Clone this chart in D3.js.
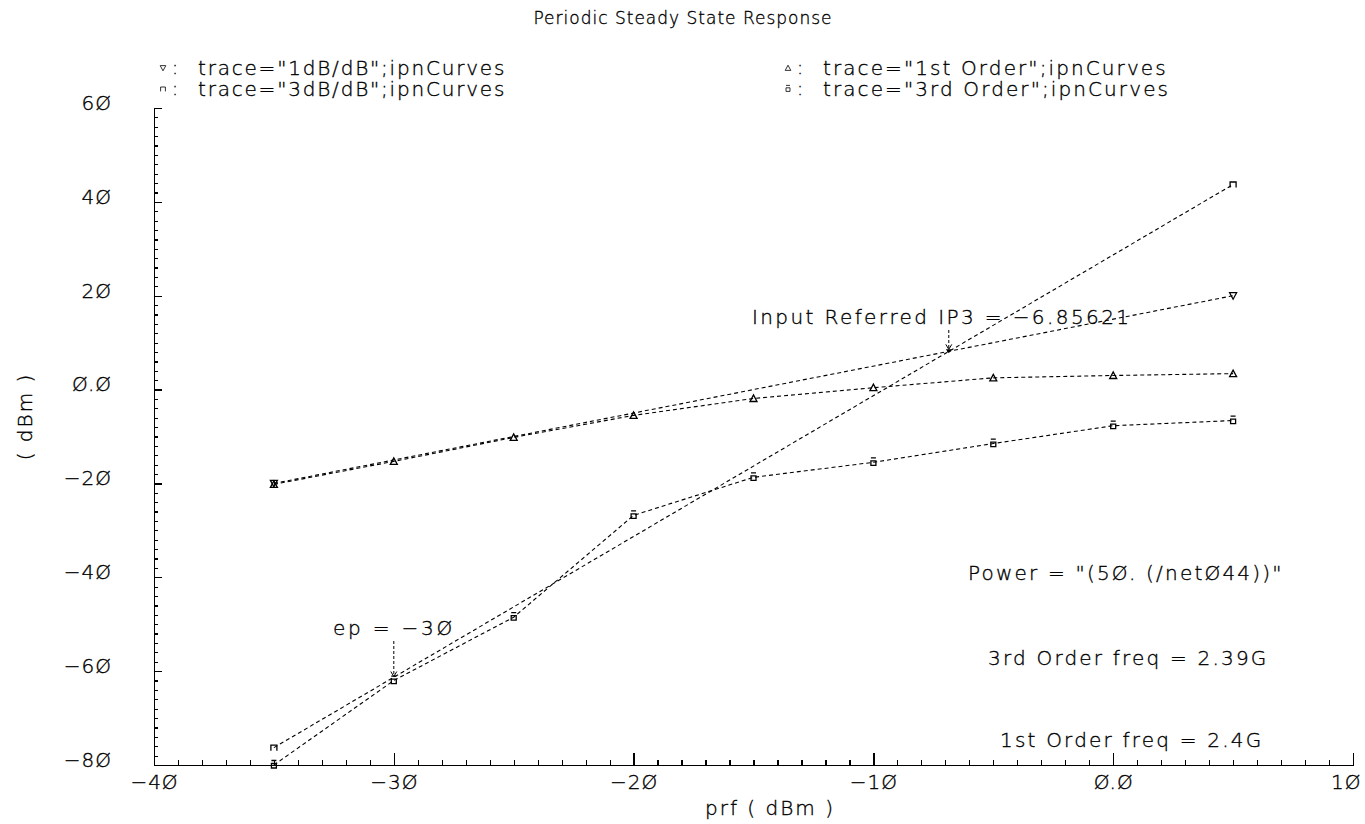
<!DOCTYPE html>
<html>
<head>
<meta charset="utf-8">
<script src="https://cdn.jsdelivr.net/npm/d3@7"></script>
<style>
body { margin: 0; background: #fff; }
text { font-family: "DejaVu Sans", sans-serif; font-weight: 200; fill: #000; stroke: #000; stroke-width: 0.35px; }
</style>
</head>
<body>
<div id="chart"></div>
<script>
// Data
var prf = [-35, -30, -25, -20, -15, -10, -5, 0, 5];
var firstOrder = [-20.2, -15.3, -10.2, -5.5, -1.9, 0.4, 2.5, 3.0, 3.4];
var thirdOrder = [-80.0, -62.0, -48.5, -26.8, -18.7, -15.5, -11.5, -7.7, -6.6];
var slopePrf = [-35, 5];
var oneDb = [-20.0, 20.0];
var threeDb = [-76.3, 43.7];
var ip3Point = [-6.85621, 8.14];
var epPoint = [-30, -62.0];
var xMajor = [-40, -30, -20, -10, 0, 10];
var yMajor = [-80, -60, -40, -20, 0, 20, 40, 60];

var width = 1365, height = 824;
var plotLeft = 154, plotRight = 1353, plotTop = 108, plotBottom = 765;

var svg = d3.select("#chart").append("svg")
    .attr("width", width)
    .attr("height", height);

svg.append("rect").attr("width", width).attr("height", height).attr("fill", "#fff");

var xScale = d3.scaleLinear().domain([-40, 10]).range([plotLeft, plotRight]);
var yScale = d3.scaleLinear().domain([-80, 60]).range([plotBottom, plotTop]);

// odd slashed zero of the plotting tool
function fmt(d) {
  if (d === 0) return "Ø.Ø";
  return String(d).replace(/0/g, "Ø").replace("-", "−");
}

// minor ticks
svg.append("g")
    .attr("transform", `translate(0, ${plotBottom})`)
    .call(d3.axisBottom(xScale).tickValues(d3.range(-40, 11, 1)).tickSizeInner(-5).tickSizeOuter(0).tickFormat(""));
svg.append("g")
    .attr("transform", `translate(${plotLeft}, 0)`)
    .call(d3.axisLeft(yScale).tickValues(d3.range(-80, 61, 2)).tickSizeInner(-4).tickSizeOuter(0).tickFormat(""));

// major ticks + labels
var xAxis = svg.append("g")
    .attr("class", "xAxis")
    .attr("transform", `translate(0, ${plotBottom})`)
    .call(d3.axisBottom(xScale).tickValues(xMajor).tickSizeInner(-12).tickSizeOuter(0).tickPadding(10).tickFormat(fmt));
var yAxis = svg.append("g")
    .attr("class", "yAxis")
    .attr("transform", `translate(${plotLeft}, 0)`)
    .call(d3.axisLeft(yScale).tickValues(yMajor).tickSizeInner(-8).tickSizeOuter(0).tickPadding(42).tickFormat(fmt));

svg.selectAll(".domain, .tick line").attr("stroke", "#000").attr("stroke-width", 1.2).attr("shape-rendering", "crispEdges");
svg.selectAll(".tick text").attr("font-size", 20).attr("font-family", null).attr("fill", null).style("letter-spacing", "1px");
yAxis.selectAll(".tick text").attr("y", -5);
xAxis.selectAll(".tick text").filter(function(d) { return d === 10; }).attr("text-anchor", "end").attr("dx", 8);

// titles
svg.append("text")
    .attr("x", 683).attr("y", 24)
    .attr("text-anchor", "middle")
    .attr("font-size", 17)
    .style("letter-spacing", "1px")
    .text("Periodic Steady State Response");

svg.append("text")
    .attr("x", 770).attr("y", 815)
    .attr("text-anchor", "middle")
    .attr("font-size", 20)
    .style("letter-spacing", "2px")
    .text("prf ( dBm )");

svg.append("text")
    .attr("transform", `translate(32, ${(plotTop + plotBottom) / 2 - 20}) rotate(-90)`)
    .attr("text-anchor", "middle")
    .attr("font-size", 20)
    .style("letter-spacing", "2px")
    .text("( dBm )");

// marker shapes
var shapes = {
  down: "M-3.5,-3L3.5,-3L0,3.5Z",
  up: "M-3.5,3L3.5,3L0,-3.5Z",
  box: "M-3,3V-2.5H3V3",
  bar: "M-2.5,-1.5h5v4.5h-5ZM-2.5,-4.5h5"
};

var series = [
  { name: 'trace="1dB/dB";ipnCurves', xs: slopePrf, ys: oneDb, shape: "down" },
  { name: 'trace="3dB/dB";ipnCurves', xs: slopePrf, ys: threeDb, shape: "box" },
  { name: 'trace="1st Order";ipnCurves', xs: prf, ys: firstOrder, shape: "up" },
  { name: 'trace="3rd Order";ipnCurves', xs: prf, ys: thirdOrder, shape: "bar" }
];

var line = d3.line()
    .x(function(d) { return xScale(d[0]); })
    .y(function(d) { return yScale(d[1]); });

series.forEach(function(s) {
  var pts = s.xs.map(function(x, i) { return [x, s.ys[i]]; });
  svg.append("path")
      .datum(pts)
      .attr("d", line)
      .attr("fill", "none")
      .attr("stroke", "#000")
      .attr("stroke-width", 1.1)
      .attr("stroke-dasharray", "4,3");
  svg.selectAll(null).data(pts).enter()
      .append("path")
      .attr("d", shapes[s.shape])
      .attr("transform", function(d) { return `translate(${xScale(d[0])}, ${yScale(d[1])})`; })
      .attr("fill", "none")
      .attr("stroke", "#000")
      .attr("stroke-width", 1.3);
});

// legend
var legendPos = [[163, 68], [163, 89], [788, 68], [788, 89]];
series.forEach(function(s, i) {
  var g = svg.append("g").attr("transform", `translate(${legendPos[i][0]}, ${legendPos[i][1]})`);
  g.append("path")
      .attr("d", shapes[s.shape])
      .attr("transform", "scale(0.8)")
      .attr("fill", "none")
      .attr("stroke", "#000");
  g.append("text").attr("x", 9).attr("y", 6).attr("font-size", 18).text(":");
  g.append("text")
      .attr("x", 35).attr("y", 7)
      .attr("font-size", 20)
      .style("letter-spacing", i < 2 ? "1.8px" : "2.1px")
      .text(s.name);
});

// annotations
function arrow(x, y0, y1) {
  svg.append("line")
      .attr("x1", x).attr("x2", x).attr("y1", y0).attr("y2", y1)
      .attr("stroke", "#000").attr("stroke-dasharray", "3,2");
  svg.append("path")
      .attr("d", `M${x - 3},${y1 - 5}L${x},${y1}L${x + 3},${y1 - 5}`)
      .attr("fill", "none").attr("stroke", "#000");
}

var ipx = xScale(ip3Point[0]), ipy = yScale(ip3Point[1]);
svg.append("text")
    .attr("x", 752).attr("y", 324)
    .attr("font-size", 20)
    .style("letter-spacing", "2.4px")
    .text("Input Referred IP3 = −6.85621");
arrow(ipx, 330, ipy - 2);
svg.append("path")
    .attr("d", "M-3,-2h6l-3,4Z")
    .attr("transform", `translate(${ipx}, ${ipy})`)
    .attr("fill", "#000");

var epx = xScale(epPoint[0]), epy = yScale(epPoint[1]);
svg.append("text")
    .attr("x", 333).attr("y", 635)
    .attr("font-size", 20)
    .style("letter-spacing", "2.8px")
    .text("ep = −3Ø");
arrow(epx, 641, epy - 4);

var notes = [
  ["Power = \"(5Ø. (/netØ44))\"", 968, 580],
  ["3rd Order freq = 2.39G", 988, 665],
  ["1st Order freq = 2.4G", 1000, 747]
];
notes.forEach(function(n) {
  svg.append("text")
      .attr("x", n[1]).attr("y", n[2])
      .attr("font-size", 20)
      .style("letter-spacing", "2.2px")
      .text(n[0]);
});
</script>
</body>
</html>
